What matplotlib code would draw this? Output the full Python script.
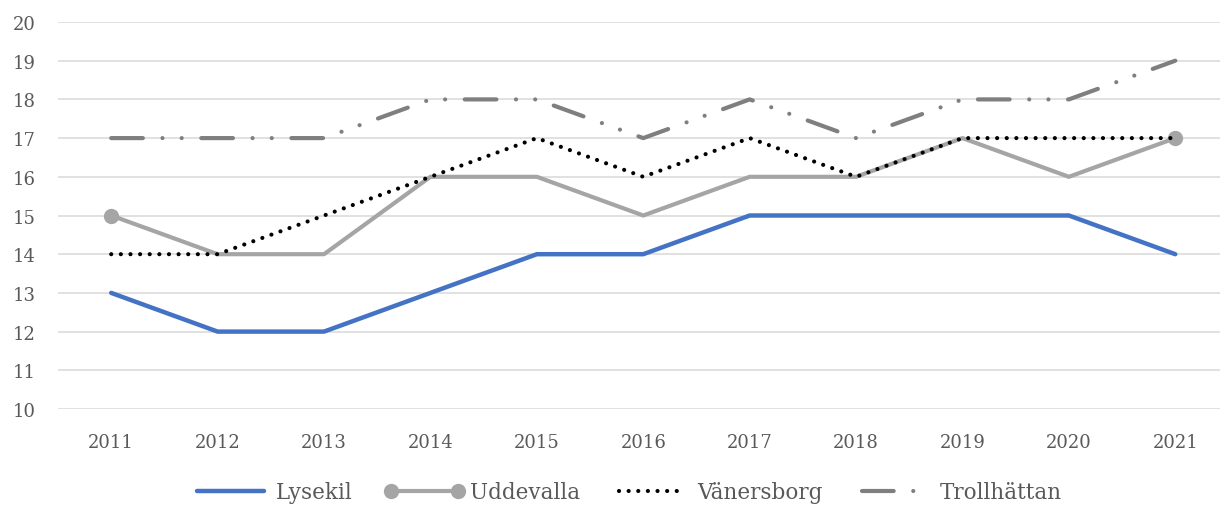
import numpy as np
import matplotlib.pyplot as plt

plt.rcParams['font.family'] = ['DejaVu Serif']

years = ['2011', '2012', '2013', '2014', '2015', '2016', '2017', '2018', '2019', '2020', '2021']
lysekil = [13, 12, 12, 13, 14, 14, 15, 15, 15, 15, 14]
uddevalla = [15, 14, 14, 16, 16, 15, 16, 16, 17, 16, 17]
vanersborg = [14, 14, 15, 16, 17, 16, 17, 16, 17, 17, 17]
trollhattan = [17, 17, 17, 18, 18, 17, 18, 17, 18, 18, 19]

fig = plt.figure(figsize=(12.2, 5.06), dpi=100)
ax = fig.add_axes([58 / 1220, 1 - 410 / 506, 1 - 58 / 1220, (410 - 23) / 506])

x = np.arange(len(years))

ax.plot(x, lysekil, color='#4472C4', lw=3.2, solid_capstyle='round',
        solid_joinstyle='round', label='Lysekil', zorder=3)
ax.plot(x, uddevalla, color='#A5A5A5', lw=3.0, marker='o', markersize=10,
        markevery=[0, len(x) - 1], solid_joinstyle='round', label='Uddevalla', zorder=3)
ax.plot(x, vanersborg, color='black', lw=3.0, linestyle=(0, (0.01, 2.3)),
        dash_capstyle='round', label='Vänersborg', zorder=4)
ax.plot(x, trollhattan, color='#7F7F7F', lw=3.0,
        linestyle=(0, (7.6, 4.7, 0.01, 4.6, 0.01, 4.7)),
        dash_capstyle='round', label='Trollhättan', zorder=3)

ax.set_xlim(-0.5, 10.42)
ax.set_ylim(10, 20)
ax.set_yticks(range(10, 21))
ax.set_xticks(x)
ax.set_xticklabels(years)

ax.grid(axis='y', color='#D9D9D9', lw=1.1, zorder=0)
ax.set_axisbelow(True)
for s in ax.spines.values():
    s.set_visible(False)
ax.tick_params(length=0, labelsize=13, labelcolor='#595959')
ax.tick_params(axis='y', pad=16)
ax.tick_params(axis='x', pad=17)

# legend centred under the chart like the original
ax.legend(loc='center', bbox_to_anchor=(0.5 - 13 / 1220, -0.215), ncol=4,
          frameon=False, fontsize=15.5, handlelength=3.7, handletextpad=0.25,
          columnspacing=1.5, numpoints=2, labelcolor='#595959')

fig.savefig('out.png', dpi=100)
